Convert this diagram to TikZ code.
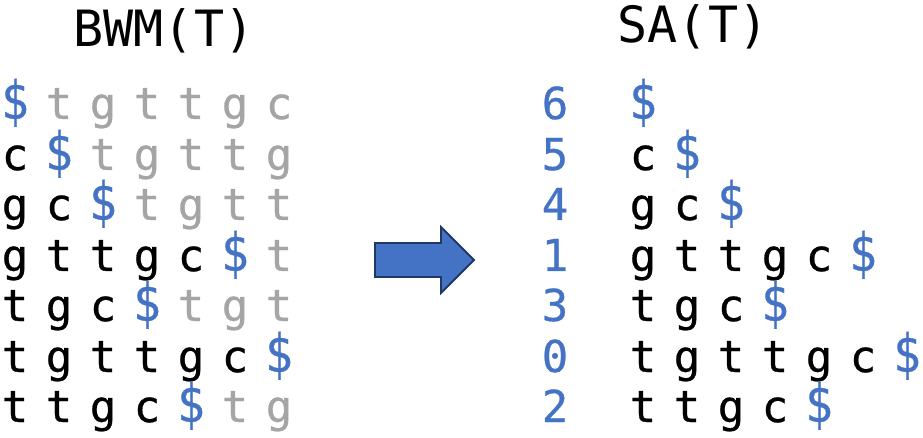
\documentclass[tikz,border=0pt]{standalone}
\usepackage{fontspec}
\usepackage{graphicx}
\setmonofont{DejaVu Sans Mono}
\newfontfamily\gridfont[FakeBold=0.6]{DejaVu Sans Mono}
\newcommand{\dol}{\scalebox{1.05}[1.2]{\$}}
\definecolor{sblue}{HTML}{4472C4}
\definecolor{sgray}{HTML}{A5A5A5}
\definecolor{navy}{HTML}{1F3864}
\begin{document}
\begin{tikzpicture}[x=1pt,y=-1pt,
  ch/.style={anchor=base, inner sep=0pt, font=\fontsize{44}{44}\gridfont},
  ttl/.style={anchor=base, inner sep=0pt, font=\fontsize{50}{50}\ttfamily},
  bigarrow/.style={fill=sblue, draw=navy, line width=1.8pt, line join=miter}]
\useasboundingbox (0,0) rectangle (923,438);
% titles
\node[ttl] (bwm) at (164,47) {BWM(T)};
\node[ttl] (sa) at (693,43) {SA(T)};
% left matrix
\foreach \ch/\co [count=\i from 0] in {\dol/sblue,t/sgray,g/sgray,t/sgray,t/sgray,g/sgray,c/sgray}
  \node[ch,text=\co] (l1-\i) at (15+44*\i,119) {\ch};
\foreach \ch/\co [count=\i from 0] in {c/black,\dol/sblue,t/sgray,g/sgray,t/sgray,t/sgray,g/sgray}
  \node[ch,text=\co] (l2-\i) at (15+44*\i,170) {\ch};
\foreach \ch/\co [count=\i from 0] in {g/black,c/black,\dol/sblue,t/sgray,g/sgray,t/sgray,t/sgray}
  \node[ch,text=\co] (l3-\i) at (15+44*\i,220) {\ch};
\foreach \ch/\co [count=\i from 0] in {g/black,t/black,t/black,g/black,c/black,\dol/sblue,t/sgray}
  \node[ch,text=\co] (l4-\i) at (15+44*\i,271) {\ch};
\foreach \ch/\co [count=\i from 0] in {t/black,g/black,c/black,\dol/sblue,t/sgray,g/sgray,t/sgray}
  \node[ch,text=\co] (l5-\i) at (15+44*\i,321) {\ch};
\foreach \ch/\co [count=\i from 0] in {t/black,g/black,t/black,t/black,g/black,c/black,\dol/sblue}
  \node[ch,text=\co] (l6-\i) at (15+44*\i,372) {\ch};
\foreach \ch/\co [count=\i from 0] in {t/black,t/black,g/black,c/black,\dol/sblue,t/sgray,g/sgray}
  \node[ch,text=\co] (l7-\i) at (15+44*\i,422) {\ch};
% arrow
\draw[bigarrow] (375,243) -- (441,243) -- (441,227) -- (474,260) -- (441,293) -- (441,277) -- (375,277) -- cycle;
% right: suffix array
\foreach \n/\y [count=\r] in {6/119,5/170,4/220,1/271,3/321,0/372,2/422}
  \node[ch,text=sblue] (n\r) at (555,\y) {\n};
\foreach \ch/\co [count=\i from 0] in {\dol/sblue}
  \node[ch,text=\co] (r1-\i) at (643+44*\i,119) {\ch};
\foreach \ch/\co [count=\i from 0] in {c/black,\dol/sblue}
  \node[ch,text=\co] (r2-\i) at (643+44*\i,170) {\ch};
\foreach \ch/\co [count=\i from 0] in {g/black,c/black,\dol/sblue}
  \node[ch,text=\co] (r3-\i) at (643+44*\i,220) {\ch};
\foreach \ch/\co [count=\i from 0] in {g/black,t/black,t/black,g/black,c/black,\dol/sblue}
  \node[ch,text=\co] (r4-\i) at (643+44*\i,271) {\ch};
\foreach \ch/\co [count=\i from 0] in {t/black,g/black,c/black,\dol/sblue}
  \node[ch,text=\co] (r5-\i) at (643+44*\i,321) {\ch};
\foreach \ch/\co [count=\i from 0] in {t/black,g/black,t/black,t/black,g/black,c/black,\dol/sblue}
  \node[ch,text=\co] (r6-\i) at (643+44*\i,372) {\ch};
\foreach \ch/\co [count=\i from 0] in {t/black,t/black,g/black,c/black,\dol/sblue}
  \node[ch,text=\co] (r7-\i) at (643+44*\i,422) {\ch};
\end{tikzpicture}
\end{document}
